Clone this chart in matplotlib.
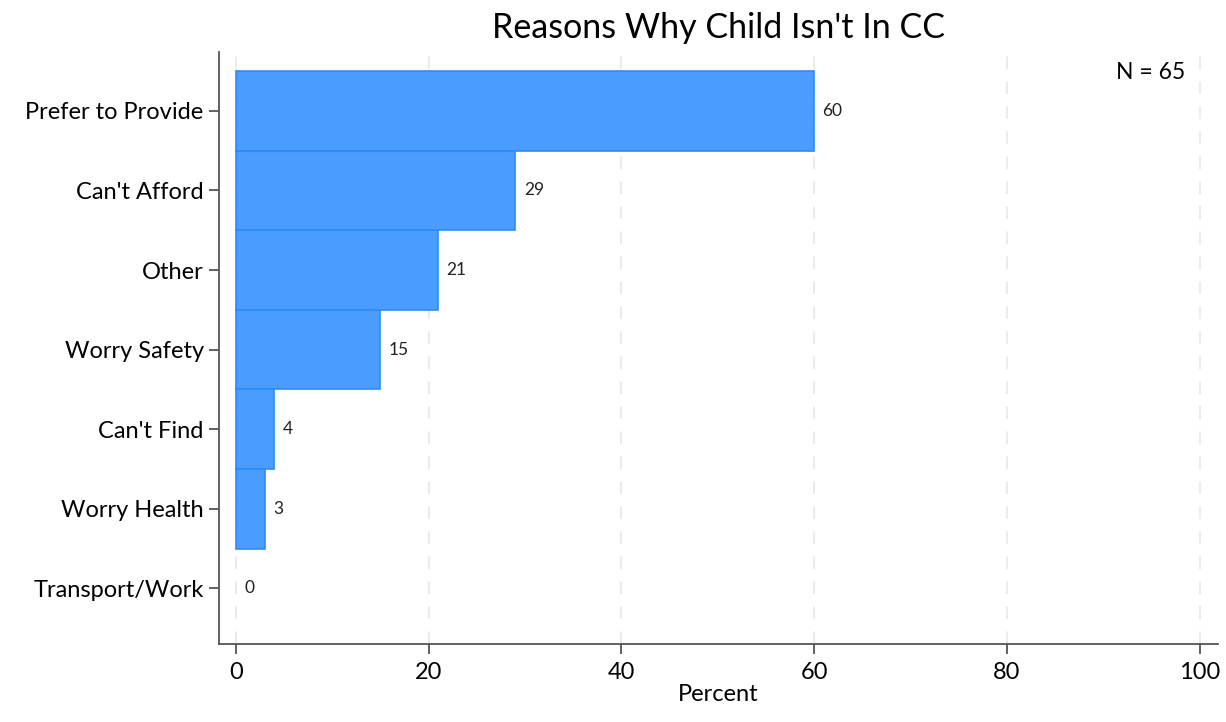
import matplotlib.pyplot as plt

plt.rcParams['font.family'] = ['Lato', 'DejaVu Sans']

reasons = ["Prefer to Provide", "Can't Afford", "Other", "Worry Safety",
           "Can't Find", "Worry Health", "Transport/Work"]
percent = [60, 29, 21, 15, 4, 3, 0]
n_total = 65

fig = plt.figure(figsize=(12.26, 7.22), dpi=100)
ax = fig.add_axes([0.1786, 0.108, 0.8149, 0.820])

ypos = list(range(len(reasons)))
bars = ax.barh(ypos, percent, height=1.0, color='#4a9cff', edgecolor='#2f8bf5',
               linewidth=1.2, zorder=3)
for b, v in zip(bars, percent):
    if v == 0:
        b.set_linewidth(0)

for y, v in zip(ypos, percent):
    ax.annotate(f"{v}", (v, y), xytext=(6, 0), textcoords='offset points',
                va='center', ha='left', fontsize=12.5, color='#222222')

ax.set_yticks(ypos)
ax.set_yticklabels(reasons, fontsize=17)
ax.set_ylim(6.7, -0.74)
ax.set_xlim(-1.76, 101.9)
ax.set_xticks([0, 20, 40, 60, 80, 100])
ax.tick_params(axis='x', labelsize=17, length=7, width=1.3, color='#555555', pad=6)
ax.tick_params(axis='y', length=7, width=1.3, color='#555555', pad=4)
ax.xaxis.grid(True, linestyle=(0, (6, 6)), color='#ebebeb', linewidth=1.5, zorder=0)

for s in ['top', 'right']:
    ax.spines[s].set_visible(False)
for s in ['left', 'bottom']:
    ax.spines[s].set_color('#555555')
    ax.spines[s].set_linewidth(1.3)

ax.set_xlabel("Percent", fontsize=17, labelpad=1)
ax.set_title("Reasons Why Child Isn't In CC", fontsize=24.5, pad=10)
ax.text(0.967, 0.965, f"N = {n_total}", transform=ax.transAxes,
        ha='right', va='center', fontsize=16.5)

fig.savefig("out.png", dpi=100)
